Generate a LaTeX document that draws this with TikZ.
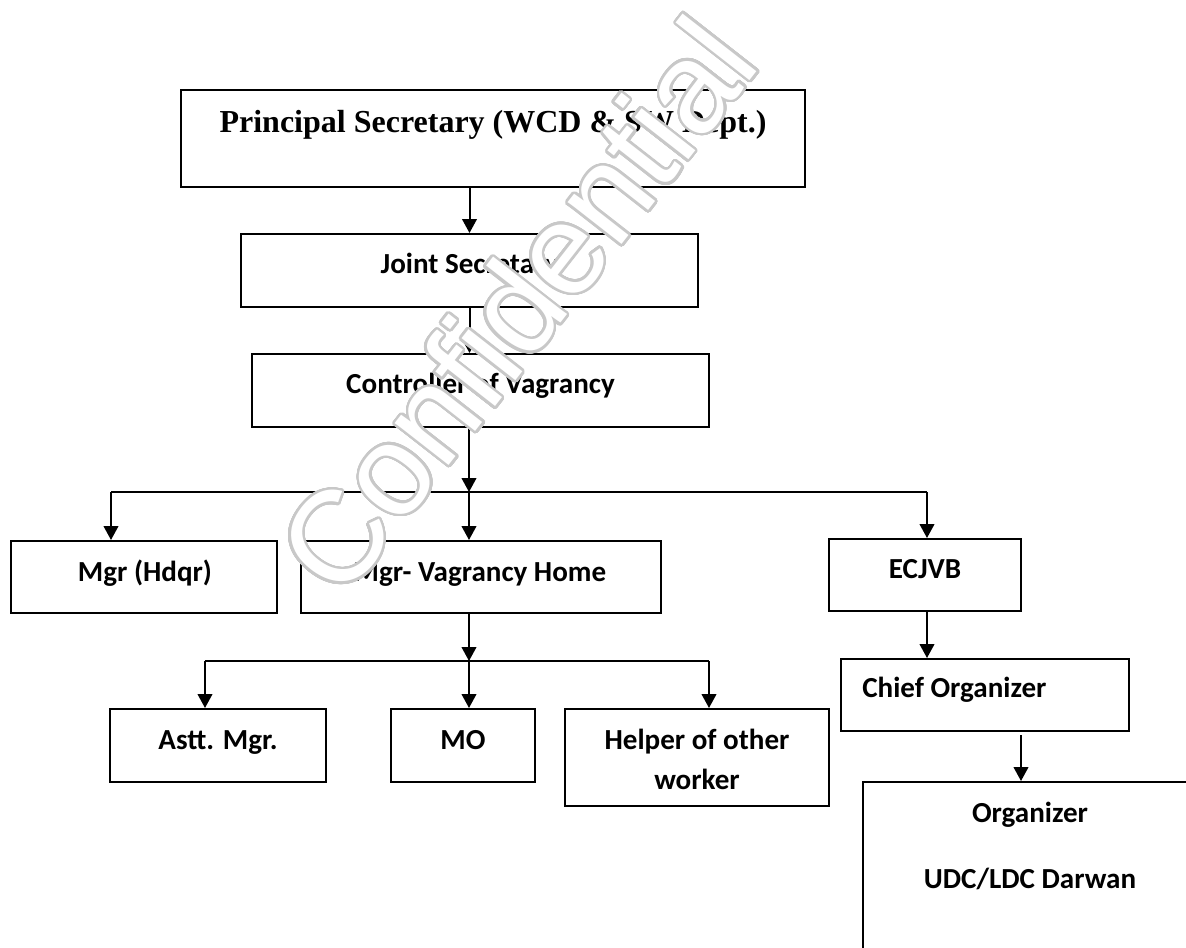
\documentclass[tikz,border=0pt]{standalone}
\usepackage{fontspec}
\usepackage{contour}
\usetikzlibrary{arrows.meta,fit}
\newfontfamily\psfont{Liberation Serif}
\newfontfamily\cbfont{Carlito}
\newfontfamily\wmfont{Liberation Sans}
\definecolor{wmgray}{RGB}{200,200,200}
\contourlength{1.8pt}
\contournumber{48}
\tikzset{
  box/.style={draw=black, line width=1.5pt, inner sep=0pt},
  lbl/.style={inner sep=0pt, anchor=base, font=\cbfont\bfseries\fontsize{21.8pt}{26pt}\selectfont},
  plbl/.style={inner sep=0pt, anchor=base, font=\psfont\bfseries\fontsize{24pt}{28pt}\selectfont},
  conn/.style={line width=1.5pt},
  arr/.style={conn, -{Triangle[width=11pt,length=10.5pt]}},
  wmark/.style={inner sep=0pt, text=white, rotate=52, font=\wmfont\fontsize{97pt}{97pt}\selectfont}
}
\begin{document}
\begin{tikzpicture}[x=0.75pt,y=-0.75pt]
\fill[white] (0,0) rectangle (1186,947);
\useasboundingbox (0,0) rectangle (1186,947);

% boxes
\node[box, fit={(181,90)(805,187)}] (ps) {};
\node[box, fit={(241,234)(698,307)}] (js) {};
\node[box, fit={(252,354)(709,427)}] (cv) {};
\node[box, fit={(11,541)(277,613)}] (mh) {};
\node[box, fit={(301,541)(661,613)}] (mv) {};
\node[box, fit={(829,539)(1021,611)}] (ec) {};
\node[box, fit={(110,709)(326,782)}] (am) {};
\node[box, fit={(391,709)(535,782)}] (mo) {};
\node[box, fit={(565,709)(829,806)}] (hp) {};
\node[box, fit={(841,659)(1129,731)}] (co) {};
\node[box, fit={(863,782)(1197,1010)}] (org) {};

% texts
\node[plbl] (pst) at (493,132) {Principal Secretary (WCD \& SW Dept.)};
\node[lbl] (jst) at (469.5,273) {Joint Secretary};
\node[lbl] (cvt) at (480.5,393) {Controller of Vagrancy};
\node[lbl] (mht) at (145,581) {Mgr (Hdqr)};
\node[lbl] (mvt) at (480,581) {Mgr- Vagrancy Home};
\node[lbl] (ect) at (925,578) {ECJVB};
\node[lbl] (amt) at (218,749) {Astt. Mgr.};
\node[lbl] (mot) at (463,749) {MO};
\node[lbl] (hpta) at (697,749) {Helper of other};
\node[lbl] (hptb) at (697,789) {worker};
\node[lbl, anchor=base west] (cot) at (862,697) {Chief Organizer};
\node[lbl] (ogta) at (1030,822) {Organizer};
\node[lbl] (ogtb) at (1030,888) {UDC/LDC Darwan};

% junction coordinates
\coordinate (busL) at (111,492);
\coordinate (busM) at (469,492);
\coordinate (busR) at (927,492);
\coordinate (subL) at (205,661);
\coordinate (subM) at (469,661);
\coordinate (subR) at (709,661);
\coordinate (oa) at (1021,735);

% connectors
\draw[arr] (ps.south -| js.north) -- (js.north);
\draw[arr] (js.south) -- (js.south |- cv.north);
\draw[arr] (cv.south -| busM) -- (busM);
\draw[conn] (busL) -- (busR);
\draw[arr] (busL) -- (busL |- mh.north);
\draw[arr] (busM) -- (busM |- mv.north);
\draw[arr] (busR) -- (busR |- ec.north);
\draw[arr] (mv.south -| subM) -- (subM);
\draw[conn] (subL) -- (subR);
\draw[arr] (subL) -- (subL |- am.north);
\draw[arr] (subM) -- (subM |- mo.north);
\draw[arr] (subR) -- (subR |- hp.north);
\draw[arr] (ec.south -| busR) -- (busR |- co.north);
\draw[arr] (oa) -- (oa |- org.north);

% watermark
\node[wmark] (wm) at (517,306) {\contour{wmgray}{Confidential}};
\end{tikzpicture}
\end{document}
